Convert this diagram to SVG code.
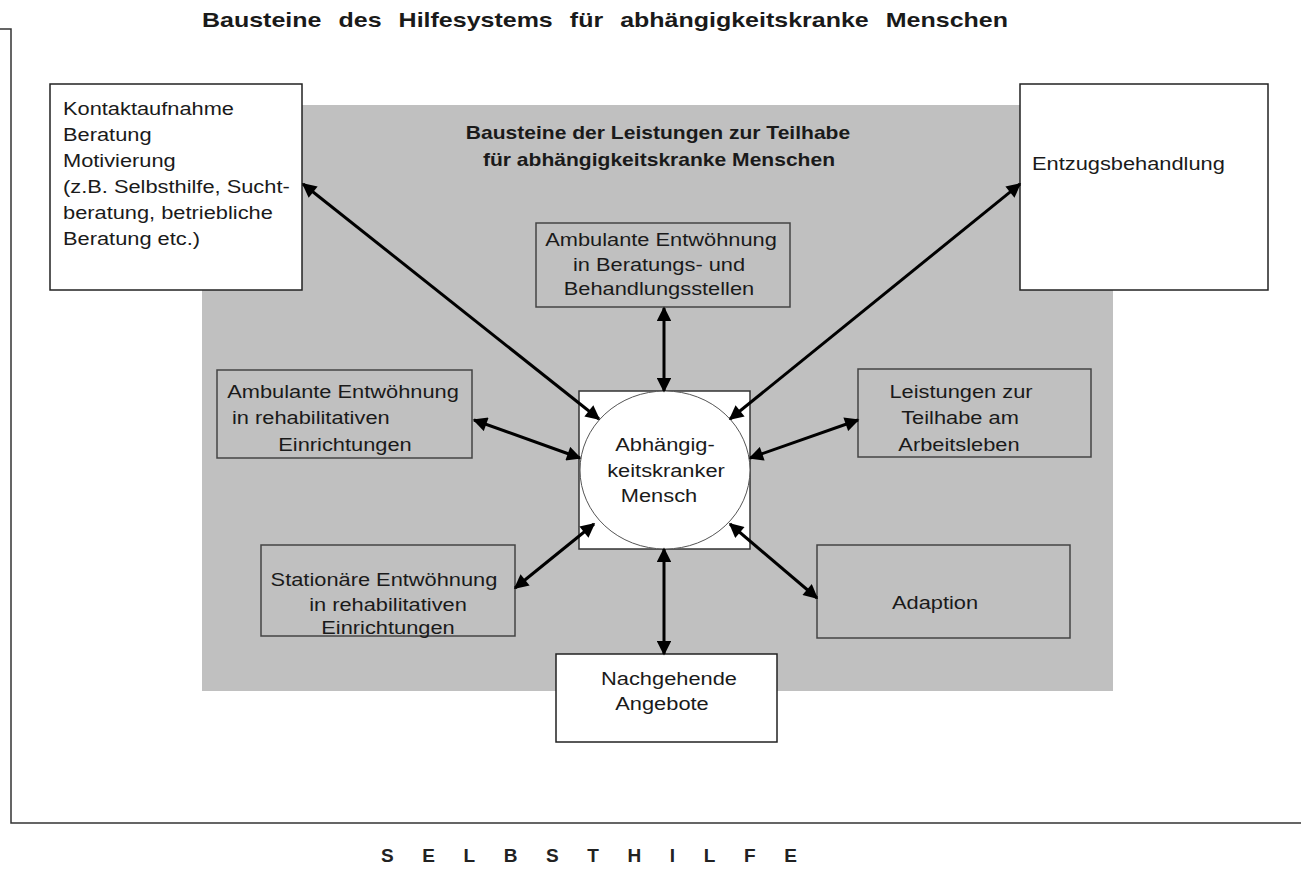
<svg xmlns="http://www.w3.org/2000/svg" width="1301" height="891" viewBox="0 0 1301 891">
<defs>
<style>
text{font-family:"Liberation Sans",Arial,sans-serif;fill:#1a1a1a;}
.t{font-size:18.5px;}
.m{text-anchor:middle;}
.h{font-size:21px;font-weight:bold;word-spacing:8.5px;}
.s{font-size:18px;font-weight:bold;}
.wb{fill:#fff;stroke:#222;stroke-width:1.5;}
.gb{fill:#c0c0c0;stroke:#444;stroke-width:1.5;}
.c{stroke:#000;stroke-width:3;fill:none;marker-start:url(#a);marker-end:url(#a);}
</style>
<marker id="a" viewBox="0 0 10 10" refX="9" refY="5" markerWidth="5.5" markerHeight="4.8" orient="auto-start-reverse" markerUnits="strokeWidth">
<path d="M0,0 L10,5 L0,10 z" fill="#000"/>
</marker>
</defs>
<rect width="1301" height="891" fill="#fff"/>
<g id="frame" fill="none" stroke="#333" stroke-width="1.5">
<polyline points="0,29 11,29 11,823 1301,823"/>
</g>
<text class="h" transform="translate(202,27) scale(1.19,1)">Bausteine des Hilfesystems für abhängigkeitskranke Menschen</text>
<g id="bg"><rect x="202" y="105" width="911" height="586" fill="#c0c0c0"/></g>
<text class="s m" transform="translate(658,139) scale(1.17,1)">Bausteine der Leistungen zur Teilhabe</text>
<text class="s m" transform="translate(659,166) scale(1.17,1)">für abhängigkeitskranke Menschen</text>
<g id="kontakt">
<rect class="wb" x="50" y="84" width="252" height="206"/>
<text class="t" transform="translate(63,115) scale(1.18,1)">Kontaktaufnahme</text>
<text class="t" transform="translate(63,141) scale(1.18,1)">Beratung</text>
<text class="t" transform="translate(63,167) scale(1.18,1)">Motivierung</text>
<text class="t" transform="translate(63,193) scale(1.18,1)">(z.B. Selbsthilfe, Sucht-</text>
<text class="t" transform="translate(63,219) scale(1.18,1)">beratung, betriebliche</text>
<text class="t" transform="translate(63,245) scale(1.18,1)">Beratung etc.)</text>
</g>
<g id="entzug">
<rect class="wb" x="1020" y="84" width="248" height="206"/>
<text class="t" transform="translate(1032,170) scale(1.18,1)">Entzugsbehandlung</text>
</g>
<g id="ambBeratung">
<rect class="gb" x="536" y="223" width="254" height="84"/>
<text class="t m" transform="translate(661,246) scale(1.18,1)">Ambulante Entwöhnung</text>
<text class="t m" transform="translate(659,271) scale(1.18,1)">in Beratungs- und</text>
<text class="t m" transform="translate(659,295) scale(1.18,1)">Behandlungsstellen</text>
</g>
<g id="ambReha">
<rect class="gb" x="217" y="370" width="255" height="88"/>
<text class="t m" transform="translate(343,398) scale(1.18,1)">Ambulante Entwöhnung</text>
<text class="t" transform="translate(232,424) scale(1.18,1)">in rehabilitativen</text>
<text class="t m" transform="translate(345,451) scale(1.18,1)">Einrichtungen</text>
</g>
<g id="leistungen">
<rect class="gb" x="858" y="369" width="233" height="88"/>
<text class="t m" transform="translate(961,398) scale(1.18,1)">Leistungen zur</text>
<text class="t m" transform="translate(960,424) scale(1.18,1)">Teilhabe am</text>
<text class="t m" transform="translate(959,451) scale(1.18,1)">Arbeitsleben</text>
</g>
<g id="stationaer">
<rect class="gb" x="261" y="545" width="254" height="91"/>
<text class="t m" transform="translate(384,586) scale(1.18,1)">Stationäre Entwöhnung</text>
<text class="t m" transform="translate(388,611) scale(1.18,1)">in rehabilitativen</text>
<text class="t m" transform="translate(388,634) scale(1.18,1)">Einrichtungen</text>
</g>
<g id="adaption">
<rect class="gb" x="817" y="545" width="253" height="93"/>
<text class="t m" transform="translate(935,609) scale(1.18,1)">Adaption</text>
</g>
<g id="nachgehend">
<rect class="wb" x="556" y="654" width="221" height="88"/>
<text class="t m" transform="translate(669,685) scale(1.18,1)">Nachgehende</text>
<text class="t m" transform="translate(662,710) scale(1.18,1)">Angebote</text>
</g>
<g id="mensch">
<rect x="579" y="391" width="171" height="158" fill="#fff" stroke="#333" stroke-width="1.5"/>
<ellipse cx="665" cy="470" rx="85" ry="79" fill="#fff" stroke="#555" stroke-width="1"/>
<text class="t m" transform="translate(665,451) scale(1.18,1)">Abhängig-</text>
<text class="t m" transform="translate(666,477) scale(1.18,1)">keitskranker</text>
<text class="t m" transform="translate(659,502) scale(1.18,1)">Mensch</text>
</g>
<g id="connectors">
<line class="c" x1="303" y1="184" x2="599" y2="419"/>
<line class="c" x1="1020" y1="184" x2="730" y2="419"/>
<line class="c" x1="664" y1="308" x2="664" y2="391"/>
<line class="c" x1="474" y1="420" x2="580" y2="458"/>
<line class="c" x1="750" y1="458" x2="858" y2="420"/>
<line class="c" x1="515" y1="588" x2="594" y2="524"/>
<line class="c" x1="730" y1="524" x2="817" y2="598"/>
<line class="c" x1="664" y1="549" x2="664" y2="654"/>
</g>
<text x="381" y="862" style="font-size:19px;font-weight:bold;letter-spacing:28.6px;fill:#222">SELBSTHILFE</text>
</svg>
